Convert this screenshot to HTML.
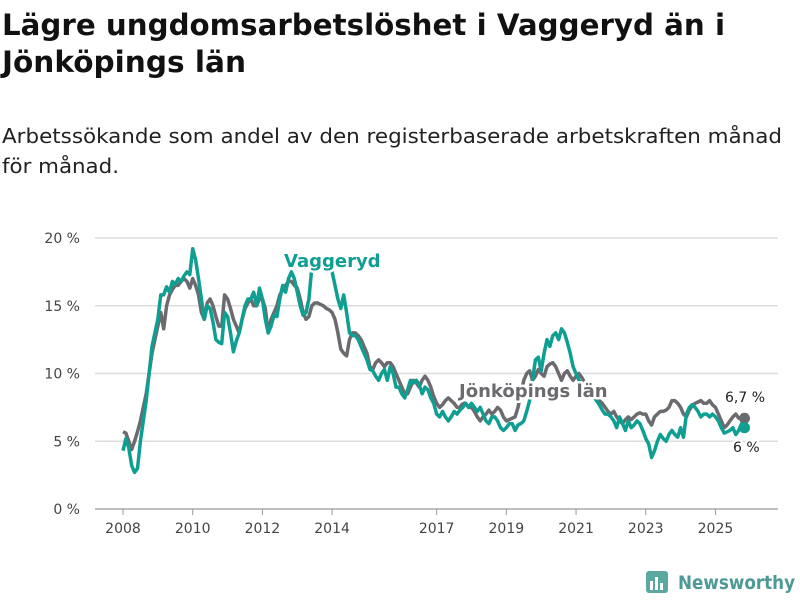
<!DOCTYPE html>
<html><head><meta charset="utf-8"><style>
body{margin:0;background:#fff;width:800px;height:600px;overflow:hidden;font-family:"Liberation Sans",sans-serif}
svg text{font-family:"DejaVu Sans","Liberation Sans",sans-serif}
</style></head><body>
<svg width="800" height="600">
<text x="2" y="35" font-size="29" font-weight="bold" fill="#111" textLength="723" lengthAdjust="spacingAndGlyphs">Lägre ungdomsarbetslöshet i Vaggeryd än i</text>
<text x="2" y="72" font-size="29" font-weight="bold" fill="#111" textLength="244" lengthAdjust="spacingAndGlyphs">Jönköpings län</text>
<text x="2" y="143" font-size="20" fill="#222" textLength="780" lengthAdjust="spacingAndGlyphs">Arbetssökande som andel av den registerbaserade arbetskraften månad</text>
<text x="2" y="173" font-size="20" fill="#222" textLength="117" lengthAdjust="spacingAndGlyphs">för månad.</text>
<g id="grid"></g><g id="lines"></g><g id="labels"></g>
<g>
<rect x="646" y="571" width="22" height="22" rx="3" fill="#5aa8a0"/>
<rect x="650" y="581" width="3" height="9" fill="#fff"/><rect x="655" y="577" width="3" height="13" fill="#fff"/><rect x="660" y="583" width="3" height="7" fill="#fff"/>
<text x="678" y="589" font-size="19" font-weight="bold" fill="#4c9a93" textLength="117" lengthAdjust="spacingAndGlyphs">Newsworthy</text>
</g>
</svg>
<script>
const yTicks=[0,5,10,15,20];
const xTicks=[2008,2010,2012,2014,2017,2019,2021,2023,2025];
const startYear=2008;
const jonkoping=[5.7,5.6,5.0,4.4,5.0,5.7,6.5,7.5,8.5,10.0,11.5,12.5,
13.5,14.5,13.3,15.0,15.8,16.2,16.5,16.5,16.8,17.0,16.8,16.3,
17.0,16.5,15.8,14.5,14.0,15.2,15.5,15.0,14.2,13.5,13.5,15.8,
15.5,14.8,14.0,13.5,13.0,14.0,14.8,15.2,15.5,15.0,15.0,15.5,
15.5,14.8,13.0,14.0,14.5,15.0,15.8,16.2,16.5,16.8,16.8,16.5,
16.3,15.5,14.5,14.0,14.2,15.0,15.2,15.2,15.1,15.0,14.8,14.7,
14.5,14.0,13.0,11.8,11.5,11.3,12.5,13.0,13.0,12.8,12.5,12.0,
11.5,10.5,10.3,10.8,11.0,10.8,10.5,10.8,10.8,10.5,10.0,9.5,
9.0,8.5,8.5,9.0,9.5,9.3,9.0,9.5,9.8,9.5,9.0,8.3,
7.8,7.5,7.7,8.0,8.2,8.0,7.8,7.5,7.5,7.8,7.8,7.5,
7.5,7.2,6.8,6.5,6.8,7.0,7.3,7.0,7.2,7.5,7.3,6.8,
6.5,6.6,6.7,6.8,7.5,8.5,9.5,10.0,10.2,9.5,9.8,10.3,
10.0,9.8,10.5,10.7,10.8,10.5,10.0,9.5,10.0,10.2,9.8,9.5,
9.8,10.0,9.7,9.3,9.0,8.8,8.5,8.2,8.0,7.8,7.5,7.2,
7.0,7.2,6.8,6.5,6.3,6.6,6.8,6.6,6.8,7.0,7.1,7.0,
7.0,6.5,6.2,6.8,7.0,7.2,7.2,7.3,7.5,8.0,8.0,7.8,
7.5,7.0,6.8,7.3,7.6,7.8,7.9,8.0,7.8,7.8,8.0,7.7,
7.5,7.0,6.5,6.0,6.2,6.5,6.8,7.0,6.7,6.7,6.7];
const vaggeryd=[4.3,5.2,4.5,3.2,2.7,3.0,5.0,6.5,8.0,10.0,12.0,13.0,
14.0,15.8,15.8,16.4,16.0,16.8,16.6,17.0,16.8,17.2,17.5,17.3,
19.2,18.4,17.0,15.5,14.0,15.0,14.8,13.8,12.5,12.3,12.2,14.5,
14.2,13.0,11.6,12.4,13.0,14.0,15.0,15.5,15.5,16.0,15.0,16.3,
15.5,14.0,13.0,13.5,14.3,14.2,15.5,16.5,16.0,17.0,17.5,17.0,
16.0,15.0,14.3,14.5,15.5,17.8,18.5,18.5,18.5,18.5,18.5,18.0,
17.5,16.5,15.5,14.8,15.8,14.5,13.0,12.8,12.8,12.5,12.0,11.5,
11.0,10.3,10.2,9.8,9.5,10.0,10.3,9.5,10.5,10.0,9.0,9.0,
8.5,8.2,8.8,9.5,9.3,9.5,9.2,8.5,9.0,8.8,8.2,7.8,
7.0,6.8,7.2,6.8,6.5,6.8,7.2,7.0,7.3,7.5,7.8,7.5,
7.8,7.5,7.2,7.5,7.0,6.5,6.3,6.8,6.8,6.5,6.0,5.8,
6.0,6.3,6.3,5.8,6.2,6.3,6.5,7.2,8.0,9.5,11.0,11.2,
10.2,11.5,12.5,12.0,12.8,13.0,12.5,13.3,13.0,12.3,11.5,10.5,
10.0,9.5,9.2,9.0,8.8,8.5,8.3,8.0,7.7,7.3,7.0,7.0,
6.8,6.5,6.0,6.8,6.3,5.8,6.5,6.0,6.2,6.5,6.3,5.8,
5.2,4.8,3.8,4.3,5.0,5.5,5.2,5.0,5.5,5.8,5.5,5.3,
6.0,5.3,7.0,7.5,7.7,7.5,7.2,6.8,7.0,7.0,6.8,7.0,
6.8,6.5,6.0,5.6,5.7,5.8,6.0,5.5,5.8,6.3,6.0];
const endLabels=["6,7 %","6 %"];
const NS="http://www.w3.org/2000/svg";
const xs=t=>123+(t-2008)*34.85;
const ys=v=>509-v*13.55;
function mk(tag,attrs,parent){const e=document.createElementNS(NS,tag);for(const k in attrs)e.setAttribute(k,attrs[k]);parent.appendChild(e);return e;}
const grid=document.getElementById('grid'),lines=document.getElementById('lines'),labels=document.getElementById('labels');
yTicks.forEach(v=>{
 const l=mk('line',{x1:95,x2:778,y1:ys(v),y2:ys(v),stroke:v===0?'#999':'#ddd','stroke-width':v===0?1.2:1.5},grid);
 
 
 const t=mk('text',{x:80,y:ys(v)+5,'text-anchor':'end','font-size':14,fill:'#444'},grid);
 t.textContent=v+' %';
 
 
});
xTicks.forEach(y=>{
 const l=mk('line',{x1:xs(y),x2:xs(y),y1:509,y2:515,stroke:'#999'},grid);
 
 
 const t=mk('text',{x:xs(y),y:533,'text-anchor':'middle','font-size':14,fill:'#444'},grid);
 t.textContent=y;
 
 
});
function path(arr){return arr.map((v,i)=>(i?'L':'M')+xs(startYear+i/12).toFixed(1)+','+ys(v).toFixed(1)).join('');}
const pj=mk('path',{d:path(jonkoping),fill:'none',stroke:'#6b6a6e','stroke-width':3.5,'stroke-linejoin':'round'},lines);


const pv=mk('path',{d:path(vaggeryd),fill:'none',stroke:'#0f9e92','stroke-width':3.5,'stroke-linejoin':'round'},lines);


const nj=jonkoping.length-1,nv=vaggeryd.length-1;
const dj=mk('circle',{cx:xs(startYear+nj/12),cy:ys(jonkoping[nj]),r:5.5,fill:'#6b6a6e'},lines);


const dv=mk('circle',{cx:xs(startYear+nv/12),cy:ys(vaggeryd[nv]),r:5.5,fill:'#0f9e92'},lines);


function lab(txt,x,y,fill,size,bold,name){
 const t=mk('text',{x:x,y:y,'font-size':size,'font-weight':bold?'bold':'normal',fill:fill,stroke:'#fff','stroke-width':5,'paint-order':'stroke','stroke-linejoin':'round'},labels);
 t.textContent=txt;
 
 
}
lab('Vaggeryd',284,267,'#0f9e92',18,true,'vaggeryd-label');
lab('Jönköpings län',459,397,'#6b6a6e',18,true,'jonkoping-label');
lab(endLabels[0],725,402,'#222',14,false,'jonkoping-end-value');
lab(endLabels[1],733,452,'#222',14,false,'vaggeryd-end-value');
</script>
</body></html>
